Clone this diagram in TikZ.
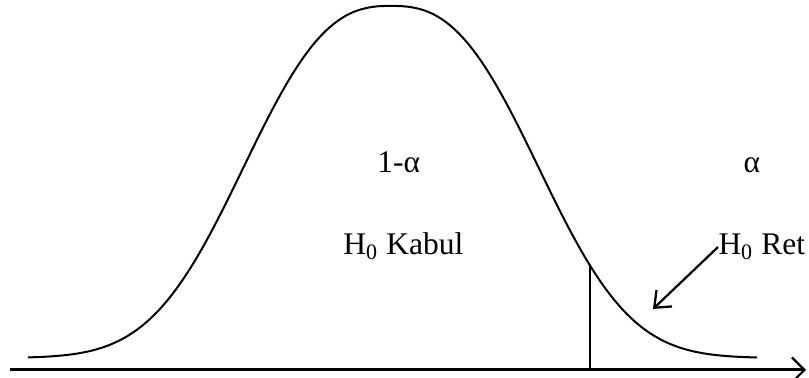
\documentclass[tikz,border=0pt]{standalone}
\usepackage{fontspec}
\setmainfont{Liberation Serif}
\usepackage{tikz}
\usetikzlibrary{arrows.meta, positioning}

\begin{document}
\begin{tikzpicture}[
        x=0.4pt, y=-0.4pt,
        curve/.style={line width=0.8pt, black},
        axis/.style={line width=1.2pt, black, -{Straight Barb[length=5pt, width=10pt, line width=0.9pt]}},
        pointer/.style={line width=0.9pt, black, -{Straight Barb[length=5.5pt, width=9pt, line width=0.9pt]}},
        label/.style={font=\fontsize{12.6}{15}\selectfont, inner sep=0pt, anchor=base west}
    ]
    \useasboundingbox (0,0) rectangle (809,378);

    % Eksen
    \coordinate (axisL) at (10,370);
    \coordinate (axisR) at (806,370);
    \draw[axis] (axisL) -- (axisR);

    % Normal dagilim egrisi
    \draw[curve] plot[domain=28:757, samples=150, smooth]
        (\x, {358 - 352*exp(-((abs(\x-391)+0.01)/178)^2.6)});

    % Kritik deger
    \coordinate (cut) at (590,370);
    \coordinate (cutTop) at (590,266);
    \draw[curve] (cut) -- (cutTop);

    % Etiketler
    \node[label] (one) at (377,173) {1-α};
    \node[label] (alpha) at (743,173) {α};
    \node[label] (kabul) at (343,255) {H\textsubscript{0} Kabul};
    \node[label] (ret) at (718,255) {H\textsubscript{0} Ret};

    % Ret bolgesi oku
    \coordinate (tail) at (653,309);
    \draw[pointer] (ret.west) -- (tail);

\end{tikzpicture}
\end{document}
